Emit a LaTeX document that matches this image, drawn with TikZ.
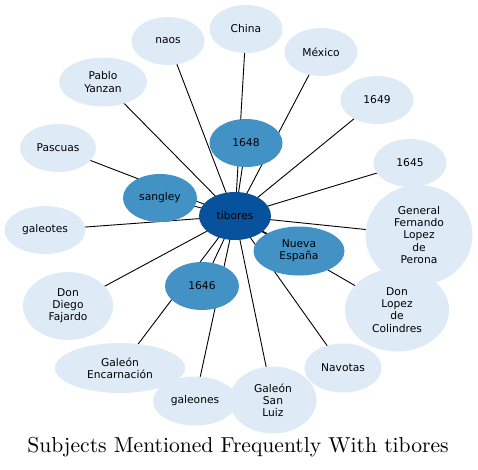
\documentclass[tikz,border=0pt]{standalone}
\usepackage{fontspec}
\newfontfamily\dv{DejaVu Sans}
\usetikzlibrary{shapes.geometric,backgrounds}
\definecolor{lightb}{HTML}{DEEBF7}
\definecolor{midb}{HTML}{4292C6}
\definecolor{darkb}{HTML}{08519C}
\tikzset{
  bub/.style={ellipse, inner sep=0pt, fill=lightb, align=center, text=black,
    font=\dv\fontsize{10.7}{12.2}\selectfont},
  midbub/.style={bub, fill=midb},
  darkbub/.style={bub, fill=darkb},
  sz/.style 2 args={minimum width=#1pt, minimum height=#2pt},
  link/.style={draw=black, line width=0.9pt}
}
\begin{document}
\begin{tikzpicture}[x=1pt,y=-1pt]
\useasboundingbox (0,0) rectangle (478,469);
\node[darkbub, sz={72}{48}] (tib) at (235,216) {tibores};
\node[midbub, sz={73}{48}] (m1648) at (246,143) {1648};
\node[midbub, sz={74}{48}] (sang) at (160,198) {sangley};
\node[midbub, sz={91}{49}] (nueva) at (299,251) {Nueva\\España};
\node[midbub, sz={74}{48}] (m1646) at (202,286) {1646};
\node[bub, sz={73}{48}] (naos) at (168,41) {naos};
\node[bub, sz={73}{48}] (china) at (246,29) {China};
\node[bub, sz={73}{48}] (mexico) at (321,52) {México};
\node[bub, sz={88}{49}] (pablo) at (103,82) {Pablo\\Yanzan};
\node[bub, sz={73}{48}] (m1649) at (377,100) {1649};
\node[bub, sz={73}{48}] (m1645) at (410,163) {1645};
\node[bub, sz={107}{100}] (general) at (419,235) {General\\Fernando\\Lopez\\de\\Perona};
\node[bub, sz={104}{83}] (colind) at (397,310) {Don\\Lopez\\de\\Colindres};
\node[bub, sz={77}{49}] (navotas) at (343,368) {Navotas};
\node[bub, sz={87}{67}] (sanluiz) at (273,400) {Galeón\\San\\Luiz};
\node[bub, sz={84}{49}] (galeones) at (195,401) {galeones};
\node[bub, sz={130}{50}] (encarn) at (120,368) {Galeón\\Encarnación};
\node[bub, sz={90}{68}] (fajardo) at (68,306) {Don\\Diego\\Fajardo};
\node[bub, sz={81}{48}] (galeotes) at (45,230) {galeotes};
\node[bub, sz={76}{48}] (pascuas) at (58,148) {Pascuas};
\begin{scope}[on background layer]
\foreach \n in {m1648,sang,nueva,m1646,naos,china,mexico,pablo,m1649,m1645,general,colind,navotas,sanluiz,galeones,encarn,fajardo,galeotes,pascuas}
  \draw[link] (tib.center) -- (\n.center);
\end{scope}
\node[inner sep=0pt, anchor=base] (title) at (238,452.5) {\scalebox{2.16}{\fontsize{10}{12}\selectfont Subjects Mentioned Frequently With tibores}};
\end{tikzpicture}
\end{document}
